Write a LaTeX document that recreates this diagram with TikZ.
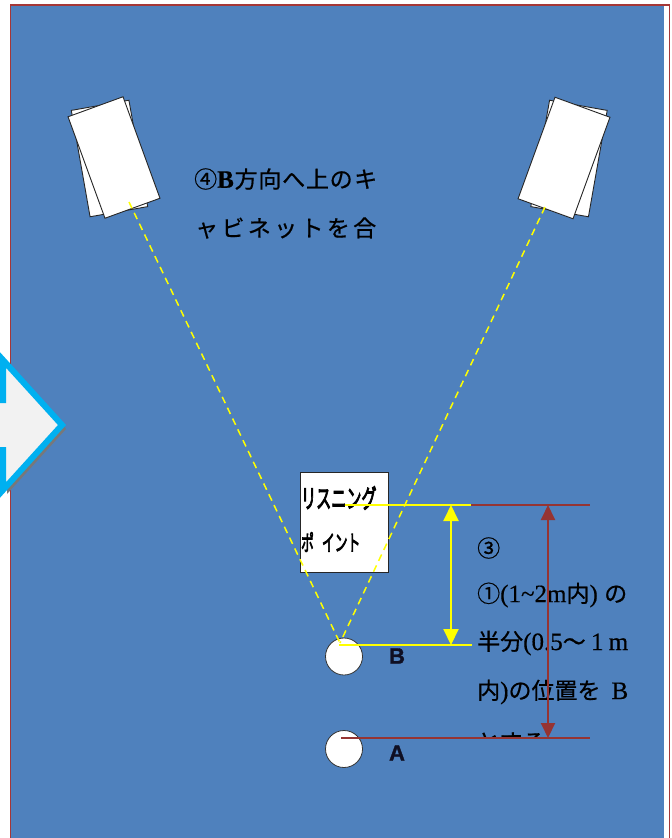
\documentclass[tikz,border=0pt]{standalone}
\usepackage{fontspec}
\setmainfont{Liberation Serif}[FakeBold=0.4]
\newfontfamily\jp{Noto Sans CJK JP}[FakeBold=0.6]
\newfontfamily\jpb{Noto Sans CJK JP}[FakeBold=4]
\newfontfamily\lsans{Liberation Sans}[FakeBold=1.5]
\usetikzlibrary{arrows.meta}
\definecolor{bgblue}{RGB}{79,129,189}
\definecolor{framered}{RGB}{165,55,55}
\definecolor{dred}{RGB}{150,52,50}
\definecolor{yel}{RGB}{255,255,0}
\definecolor{cyanarrow}{RGB}{0,176,240}
\definecolor{arrowfill}{RGB}{242,242,242}
\definecolor{shadowgray}{RGB}{120,120,120}
\definecolor{navy}{RGB}{15,15,35}
\newcommand{\J}[1]{{\jp #1}}
\newcommand{\Lt}[1]{{\fontsize{25}{25}\selectfont #1}}
\tikzset{
  speakerbox/.style={draw=black!85, line width=0.9pt, fill=white, minimum width=58.5pt, minimum height=108pt, inner sep=0pt},
  seat/.style={circle, draw=black!80, line width=0.8pt, fill=white, minimum size=37pt, inner sep=0pt},
  seatlabel/.style={font=\lsans\bfseries\fontsize{22}{22}\selectfont, text=navy, inner sep=0pt},
  sightline/.style={yel, line width=1.5pt, dash pattern=on 7pt off 5pt},
  yline/.style={yel, line width=2.5pt},
  rline/.style={dred, line width=2pt},
  ydim/.style={yel, line width=2pt, {Triangle[width=15pt,length=16pt]}-{Triangle[width=15pt,length=16pt]}},
  rdim/.style={dred, line width=2pt, {Triangle[width=14pt,length=15pt]}-{Triangle[width=14pt,length=15pt]}},
  note/.style={anchor=west, inner sep=0pt, font=\fontsize{23}{23}\selectfont, text=black},
  lpbox/.style={draw=black!85, line width=0.9pt, fill=white, minimum width=88pt, minimum height=100pt, inner sep=0pt},
  lptext/.style={anchor=west, inner sep=0pt, font=\jpb\fontsize{26}{26}\selectfont, xscale=0.58, text=black},
}
\begin{document}
\begin{tikzpicture}[x=1pt,y=-1pt]
\useasboundingbox (0,0) rectangle (672,838);
\fill[white] (0,0) rectangle (672,838);
\fill[bgblue] (10.5,5) rectangle (664,838);
\draw[framered, line width=1.5pt] (10.5,840) -- (10.5,5) -- (669.5,5) -- (669.5,840);

% left big arrow (only its head is visible)
\begin{scope}
\clip (0,0) rectangle (672,838);
\fill[shadowgray] (-40,404) -- (7,404) -- (7,364) -- (66,429) -- (7,494) -- (7,454) -- (-40,454) -- cycle;
\draw[cyanarrow, fill=arrowfill, line width=6pt, line join=miter] (-40,400) -- (3,400) -- (3,360) -- (62,425) -- (3,490) -- (3,450) -- (-40,450) -- cycle;
\end{scope}

% speakers
\node[speakerbox, rotate=10] (lspkback) at (109.5,158.5) {};
\node[speakerbox, rotate=20] (lspk) at (114,157.5) {};
\node[speakerbox, rotate=-10] (rspkback) at (569,158.5) {};
\node[speakerbox, rotate=-20] (rspk) at (564,158) {};

% upper note
\node[note] (note1) at (194,179) {\makebox[183pt][s]{\J{④}\Lt{\textbf{B}}\hfil\J{方}\hfil\J{向}\hfil\J{へ}\hfil\J{上}\hfil\J{の}\hfil\hfil\J{キ}}};
\node[note] (note2) at (195,228) {\makebox[181pt][s]{\J{ャ}\hfil\J{ビ}\hfil\J{ネ}\hfil\J{ッ}\hfil\J{ト}\hfil\J{を}\hfil\J{合}}};

% listening point box
\node[lpbox] (lp) at (344,522) {};
\node[lptext] (lp1) at (301,498) {リスニング};
\node[lptext, font=\jpb\fontsize{22}{22}\selectfont] (lp2) at (301,542) {ポ\hspace{14pt}イント};

% seats
\node[seat] (seatB) at (344,656.5) {};
\node[seat] (seatA) at (344,749) {};
\node[seatlabel] (labB) at (397,656) {B};
\node[seatlabel] (labA) at (397,753) {A};

% coordinates
\coordinate (lsrc) at (129,202);
\coordinate (rsrc) at (545,207);
\coordinate (apex) at (340,643);
\coordinate (ytopL) at (345,505);
\coordinate (ytopR) at (471,505);
\coordinate (rtopR) at (590,505);
\coordinate (ybotL) at (339,645);
\coordinate (ybotR) at (472,645);
\coordinate (rbotL) at (341,738);
\coordinate (rbotR) at (590,738);
\coordinate (ydimT) at (451,505);
\coordinate (ydimB) at (451,645);
\coordinate (rdimT) at (548,505);
\coordinate (rdimB) at (548,738);

% sight lines
\draw[sightline] (lsrc) -- (apex);
\draw[sightline] (rsrc) -- (apex);

% right note (clipped at bottom)
\begin{scope}
\clip (470,520) rectangle (640,737);
\node[note] (n3) at (477,548) {\J{③}};
\node[note] (n4) at (477,595) {\makebox[150pt][s]{\J{①}\Lt{(1\char`\~2m}\J{内}\Lt{)}\hfil\J{の}}};
\node[note] (n5) at (477,643) {\makebox[151pt][s]{\J{半分}\Lt{(0.5}\J{～}\hfil\Lt{1}\hfil\Lt{m}}};
\node[note] (n6) at (477,692) {\makebox[151pt][s]{\J{内}\Lt{)}\J{の位置を}\hfill\Lt{B}}};
\node[note] (n7) at (477,742) {\J{とする}};
\end{scope}

% reference lines
\draw[yline] (ytopL) -- (ytopR);
\draw[rline] (ytopR) -- (rtopR);
\draw[yline] (ybotL) -- (ybotR);
\draw[rline] (rbotL) -- (rbotR);
\draw[ydim] (ydimT) -- (ydimB);
\draw[rdim] (rdimT) -- (rdimB);
\end{tikzpicture}
\end{document}
